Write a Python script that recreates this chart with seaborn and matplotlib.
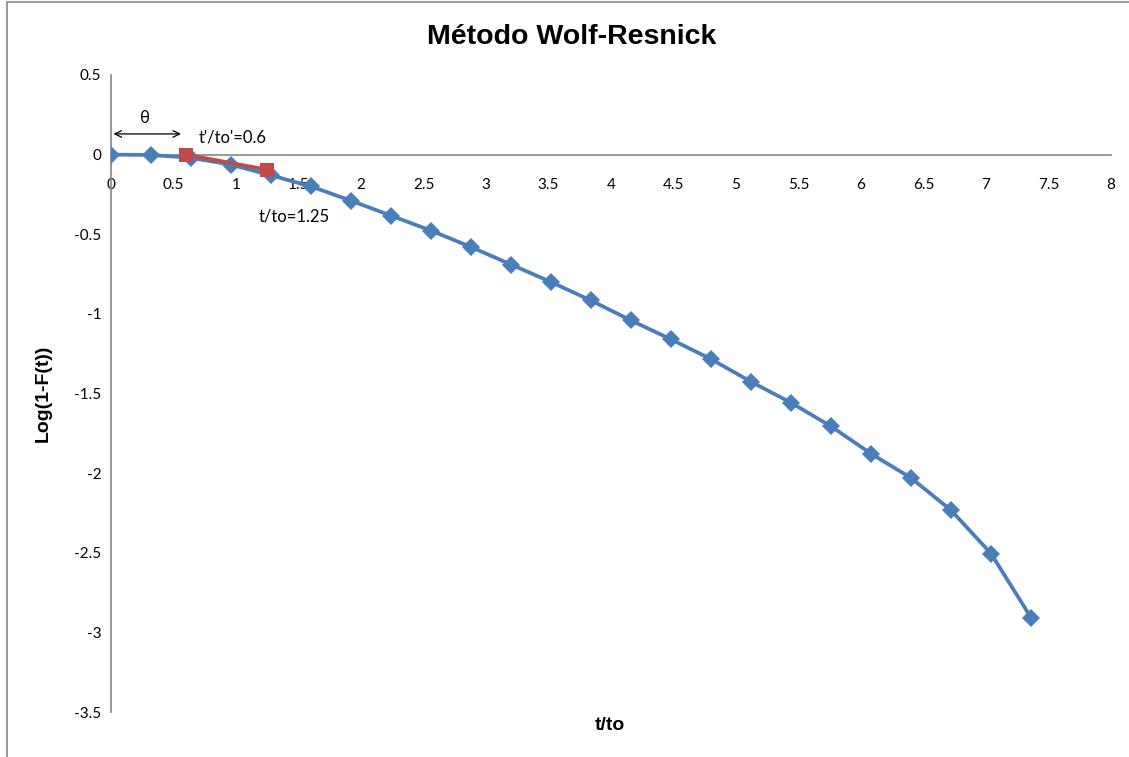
import numpy as np
import pandas as pd
import seaborn as sns
import matplotlib.pyplot as plt
from matplotlib.patches import Rectangle
from matplotlib.ticker import FuncFormatter

# curve data
t_rel = [0.0, 0.32, 0.64, 0.96, 1.28, 1.6, 1.92, 2.24, 2.56, 2.88, 3.2, 3.52,
         3.84, 4.16, 4.48, 4.8, 5.12, 5.44, 5.76, 6.08, 6.4, 6.72, 7.04, 7.36]
log_f = [0.0, -0.002, -0.02, -0.063, -0.13, -0.2, -0.289, -0.383, -0.477, -0.58,
         -0.69, -0.80, -0.916, -1.041, -1.16, -1.284, -1.426, -1.558, -1.706,
         -1.878, -2.03, -2.233, -2.505, -2.907]

# tangent segment
t_seg = [0.6, 1.25]
log_seg = [0.0, -0.095]

x_ticks = [0, 0.5, 1, 1.5, 2, 2.5, 3, 3.5, 4, 4.5, 5, 5.5, 6, 6.5, 7, 7.5, 8]
y_ticks = [0.5, 0, -0.5, -1, -1.5, -2, -2.5, -3, -3.5]

sns.set_theme(style='white')
plt.rcParams['font.family'] = ['Lato', 'DejaVu Sans']
plt.rcParams['axes.unicode_minus'] = False
plt.rcParams['text.color'] = 'black'
plt.rcParams['xtick.color'] = 'black'
plt.rcParams['ytick.color'] = 'black'

blue = '#4A7EBB'
red = '#BE4B48'
gray = '#868686'

fig = plt.figure(figsize=(11.29, 7.57), dpi=100)
ax = fig.add_axes([111 / 1129, 1 - 712 / 757, 1000 / 1129, 637 / 757])

df = pd.DataFrame({'t': t_rel, 'y': log_f})
sns.lineplot(data=df, x='t', y='y', ax=ax, color=blue, lw=2.7, marker='D',
             markersize=9, markeredgewidth=0, sort=False, zorder=3)
seg = pd.DataFrame({'t': t_seg, 'y': log_seg})
sns.lineplot(data=seg, x='t', y='y', ax=ax, color=red, lw=2.7, marker='s',
             markersize=10, markeredgewidth=0, sort=False, zorder=4)

ax.set_xlim(0, 8)
ax.set_ylim(-3.5, 0.5)
ax.set_xticks(x_ticks)
ax.set_yticks(y_ticks)
fmt = FuncFormatter(lambda v, p: '%g' % v)
ax.xaxis.set_major_formatter(fmt)
ax.yaxis.set_major_formatter(fmt)
ax.spines['left'].set_position(('data', 0))
ax.spines['bottom'].set_position(('data', 0))
ax.spines['top'].set_visible(False)
ax.spines['right'].set_visible(False)
for s in ['left', 'bottom']:
    ax.spines[s].set_color(gray)
    ax.spines[s].set_linewidth(1.2)
ax.tick_params(axis='x', length=0, pad=17, labelsize=11)
ax.tick_params(axis='y', length=0, pad=7, labelsize=11)
ax.set_xlabel('')
ax.set_ylabel('')
ax.patch.set_alpha(0)

# annotations
ax.annotate('', xy=(0.02, 0.13), xytext=(0.56, 0.13),
            arrowprops=dict(arrowstyle='<->', color='black', lw=0.9,
                            shrinkA=0, shrinkB=0))
ax.text(0.27, 0.23, 'θ', fontsize=12, ha='center', va='center')
ax.text(0.7, 0.11, "t'/to'=0.6", fontsize=12, ha='left', va='center')
ax.text(1.18, -0.39, 't/to=1.25', fontsize=12, ha='left', va='center')

fig.text(572 / 1129, 1 - 37 / 757, 'Método Wolf-Resnick', ha='center',
         va='center', fontsize=20.5, fontweight='bold', family='Liberation Sans')
fig.text(43 / 1129, 1 - 393 / 757, 'Log(1-F(t))', ha='center', va='center',
         rotation=90, fontsize=14, fontweight='bold', family='Liberation Sans')
fig.text(610 / 1129, 1 - 726 / 757, 't/to', ha='center', va='center',
         fontsize=14, fontweight='bold', family='Liberation Sans')

# chart border
fig.patches.append(Rectangle((7 / 1129, -0.01), 1.1, 1.01 - 1.5 / 757,
                             transform=fig.transFigure, fill=False,
                             edgecolor=gray, lw=1.2))

fig.savefig('out.png', dpi=100)
